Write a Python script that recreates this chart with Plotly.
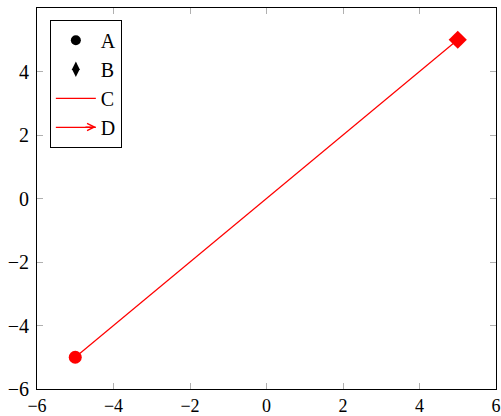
import plotly.graph_objects as go

line_x = [-5, 5]
line_y = [-5, 5]
end_symbols = ["circle", "diamond"]
legend_names = ["A", "B", "C", "D"]
tick_vals = [-6, -4, -2, 0, 2, 4, 6]
tick_text = ["−6", "−4", "−2", "0", "2", "4", "6"]

FONT = "Liberation Serif"

fig = go.Figure()
fig.add_trace(go.Scatter(
    x=line_x, y=line_y, mode="lines+markers",
    line=dict(color="red", width=1.2),
    marker=dict(symbol=end_symbols, size=[13, 14], color="red", opacity=1,
                line=dict(width=0)),
    showlegend=False, hoverinfo="skip"))

fig.add_trace(go.Scatter(x=[None], y=[None], mode="markers", name=legend_names[0],
                         marker=dict(symbol="circle", size=10, color="black")))
fig.add_trace(go.Scatter(x=[None], y=[None], mode="markers", name=legend_names[1],
                         marker=dict(symbol="diamond-tall", size=11, color="black")))
fig.add_trace(go.Scatter(x=[None], y=[None], mode="lines", name=legend_names[2],
                         line=dict(color="red", width=1.2)))
fig.add_trace(go.Scatter(x=[None], y=[None], mode="lines", name=legend_names[3],
                         line=dict(color="red", width=1.2)))

axis_common = dict(
    range=[-6, 6], tickvals=tick_vals, ticktext=tick_text,
    ticks="inside", ticklen=6, tickcolor="#b0b0b0", tickwidth=1,
    showline=True, linecolor="black", linewidth=1, mirror="ticks",
    showgrid=False, zeroline=False, automargin=False,
)

fig.update_layout(
    width=501, height=416,
    margin=dict(l=37, r=5, t=8, b=27),
    paper_bgcolor="white", plot_bgcolor="white",
    xaxis=dict(**axis_common, ticklabelstandoff=0,
               tickfont=dict(family=FONT, size=18, color="black")),
    yaxis=dict(**axis_common, ticklabelstandoff=3,
               tickfont=dict(family=FONT, size=20, color="black")),
    showlegend=True,
    legend=dict(x=0.028, y=0.969, xanchor="left", yanchor="top",
                bordercolor="black", borderwidth=1, bgcolor="white",
                font=dict(family=FONT, size=20, color="black"),
                itemwidth=40, tracegroupgap=0),
)

# arrow head for legend entry D
fig.add_annotation(x=0.1285, y=0.6877, xref="paper", yref="paper",
                   ax=-12, ay=0, axref="pixel", ayref="pixel", text="",
                   showarrow=True, arrowhead=5, arrowsize=1.2, arrowwidth=1.2,
                   arrowcolor="red")

fig.write_html("out.html", config={"displayModeBar": False},
               post_script="document.body.style.margin='0';")
